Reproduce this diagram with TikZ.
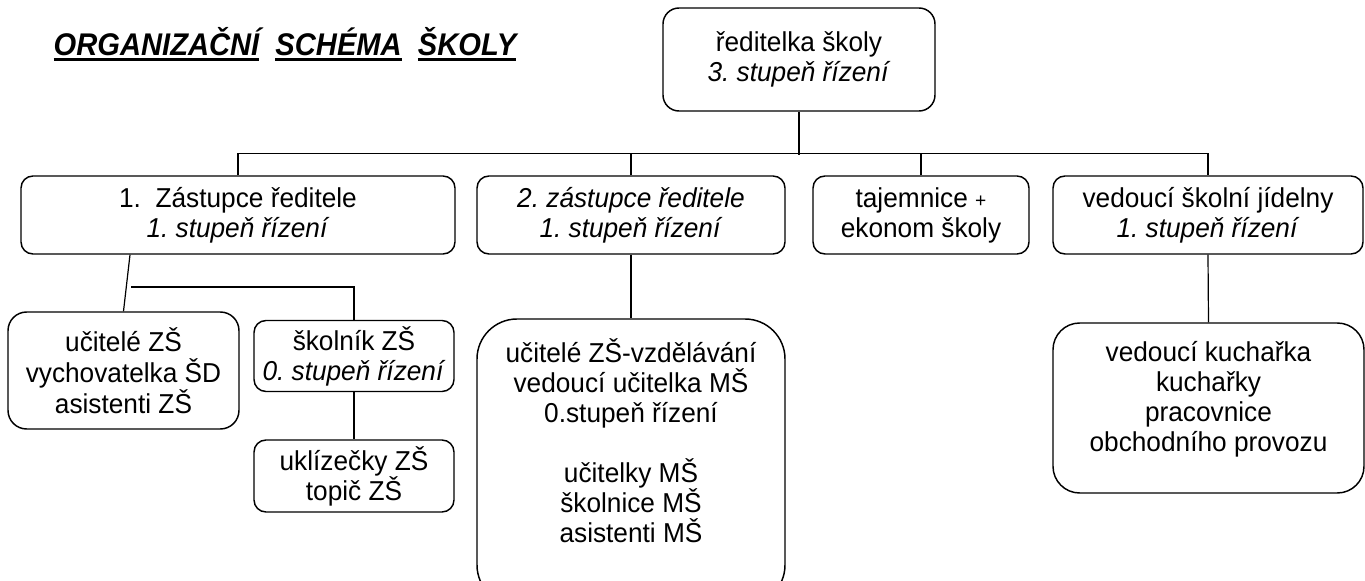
\documentclass[tikz,border=0pt]{standalone}
\usepackage{fontspec}
\setmainfont[FakeStretch=0.96]{Liberation Sans}
\newfontfamily\titlefont[FakeStretch=0.93]{Liberation Sans}
\frenchspacing
\setlength{\lineskiplimit}{-20pt}
\newcommand{\uline}[1]{\setbox0\hbox{#1}\rlap{\rule[-4pt]{\wd0}{2.3pt}}\box0}
\newcommand{\topstrut}{\rule{0pt}{19.5pt}}
\newcommand{\botstrut}[1]{\rule[-#1]{0pt}{#1}}

\begin{document}
\begin{tikzpicture}[x=0.75pt,y=-0.75pt,
    box/.style={draw,line width=1.1pt,rounded corners=9pt,align=center,inner sep=0pt,
      font=\fontsize{20.5}{22.5}\selectfont},
    link/.style={line width=0.9pt}]
        \useasboundingbox (0,0) rectangle (1365,581);
        \node at (49,56) [anchor=base west,font=\titlefont\fontsize{23.5}{28}\bfseries\itshape\selectfont] (title) {\uline{ORGANIZAČNÍ}\ \ \uline{SCHÉMA}\ \ \uline{ŠKOLY}};

        \node at (799,59.5) [box,rounded corners=12pt,minimum width=204pt,minimum height=77.25pt] (dir) {ředitelka školy\\\textit{3. stupeň řízení}};

        \node at (238,215) [box,minimum width=325.5pt,minimum height=58.5pt] (zr1) {1.\ \ Zástupce ředitele\\\textit{1. stupeň řízení}};
        \node at (631,215) [box,minimum width=231pt,minimum height=58.5pt] (zr2) {\textit{2. zástupce ředitele}\\\textit{1. stupeň řízení}};
        \node at (921,215) [box,minimum width=162pt,minimum height=58.5pt] (taj) {tajemnice {\fontsize{15}{18}\selectfont+}\\ekonom školy};
        \node at (1208,215) [box,minimum width=232.5pt,minimum height=58.5pt] (jid) {vedoucí školní jídelny\\\textit{1. stupeň řízení}};

        \node at (123.5,370.5) [box,rounded corners=14pt,minimum width=173.25pt,minimum height=87.75pt,font=\fontsize{20.5}{23.25}\selectfont] (uzs) {učitelé ZŠ\\vychovatelka ŠD\\asistenti ZŠ};
        \node at (354,356) [box,minimum width=150pt,minimum height=53.25pt] (skol) {školník ZŠ\\\textit{0. stupeň řízení}};
        \node at (354,476) [box,minimum width=150pt,minimum height=54pt] (ukl) {uklízečky ZŠ\\topič ZŠ};
        \node at (631,462) [box,rounded corners=30pt,minimum width=231pt,minimum height=214.5pt] (ms) {\topstrut učitelé ZŠ-vzdělávání\\vedoucí učitelka MŠ\\0.stupeň řízení\\[22.5pt]učitelky MŠ\\školnice MŠ\\asistenti MŠ\botstrut{34.5pt}};
        \node at (1208.5,408) [box,rounded corners=20pt,minimum width=233.25pt,minimum height=127.5pt] (kuch) {\topstrut vedoucí kuchařka\\kuchařky\\pracovnice\\obchodního provozu\botstrut{22.5pt}};

        \draw[link] (dir.south) -- ++(0,43);
        \draw[link] (zr1.north) -- ++(0,-22) -| (jid.north);
        \draw[link] (zr2.north) -- ++(0,-22);
        \draw[link] (taj.north) -- ++(0,-22);
        \draw[link] (zr2.south) -- (ms.north);
        \draw[link] (jid.south) -- (kuch.north);
        \draw[link] ([xshift=-81pt]zr1.south) -- (uzs.north);
        \coordinate (split) at (131,287);
        \draw[link] (split) -| (skol.north);
        \draw[link] (skol.south) -- (ukl.north);
\end{tikzpicture}
\end{document}
